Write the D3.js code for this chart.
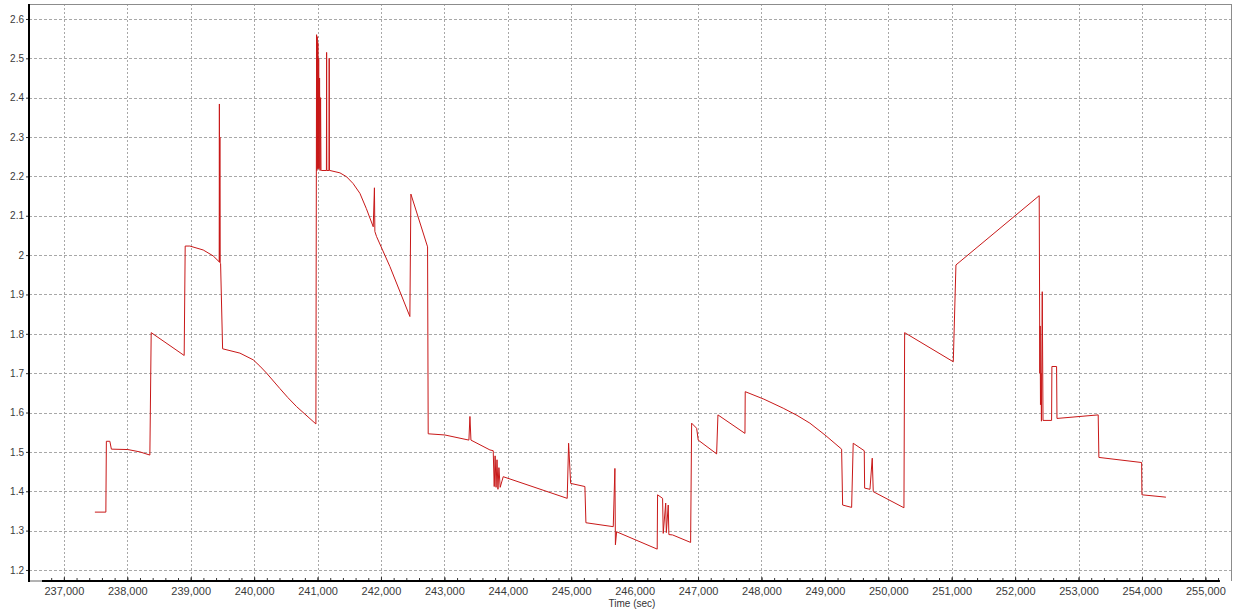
<!DOCTYPE html>
<html lang="en">
<head>
  <meta charset="UTF-8" />
  <script src="https://d3js.org/d3.v7.min.js"></script>
  <title>Time series</title>
  <style>
    body { margin: 0; background: #fff; }
    svg { display: block; font-family: "Liberation Sans", Arial, sans-serif; }
  </style>
</head>
<body>
  <div id="chart"></div>
  <script>
    // time (sec) and value
    const times = [
      237489, 237662, 237670, 237725, 237749, 238009, 238199, 238356,
      238377, 238897, 238913, 238987, 239197, 239354, 239449,
      239452, 239456, 239460, 239464, 239471, 239503,
      239776, 239985, 240091, 240197, 240406, 240532, 240670, 240974,
      240985, 240990, 240995, 241000, 241005, 241012, 241018, 241025, 241032, 241040, 241048, 241055, 241062,
      241140, 241143, 241146, 241180, 241184, 241188, 241195,
      241353, 241458, 241560, 241668, 241770, 241878, 241897, 241904, 241931, 242141, 242456,
      242472, 242735, 242745,
      243008, 243387, 243403, 243419, 243718, 243770,
      243786, 243800, 243815, 243830, 243845, 243860, 243880, 243928,
      244937, 244959, 244991, 245216, 245232, 245663, 245689, 245697, 245716,
      246356, 246362, 246441, 246451, 246490, 246500, 246530, 246540, 246599, 246883,
      246899, 246978, 247003, 247293, 247314, 247740, 247744,
      248039, 248343, 248559, 248764, 249017, 249264,
      249280, 249422, 249447, 249621, 249627, 249711, 249747, 249763, 250247,
      250258, 251025, 251067, 252380,
      252390, 252395, 252400, 252408, 252415, 252428, 252440,
      252575, 252580, 252654, 252660, 253310, 253321, 253995, 254000, 254378
    ];
    const values = [
      1.347, 1.347, 1.527, 1.527, 1.507, 1.506, 1.500, 1.492,
      1.803, 1.745, 2.023, 2.023, 2.013, 1.998, 1.983,
      2.384, 1.982, 2.300, 1.980, 1.979, 1.762,
      1.751, 1.734, 1.718, 1.700, 1.661, 1.638, 1.615, 1.571,
      2.560, 2.215, 2.555, 2.220, 2.540, 2.220, 2.500, 2.220, 2.450, 2.215, 2.400, 2.215, 2.215,
      2.215, 2.515, 2.215, 2.215, 2.500, 2.215, 2.215,
      2.209, 2.199, 2.182, 2.157, 2.118, 2.072, 2.171, 2.060, 2.047, 1.971, 1.844,
      2.155, 2.021, 1.546,
      1.543, 1.530, 1.590, 1.530, 1.505, 1.503,
      1.412, 1.490, 1.410, 1.480, 1.405, 1.460, 1.410, 1.437,
      1.382, 1.522, 1.420, 1.412, 1.320, 1.310, 1.458, 1.264, 1.297,
      1.253, 1.391, 1.382, 1.293, 1.370, 1.295, 1.365, 1.290, 1.289, 1.270,
      1.573, 1.560, 1.530, 1.495, 1.594, 1.547, 1.653,
      1.634, 1.611, 1.593, 1.573, 1.541, 1.507,
      1.365, 1.359, 1.522, 1.503, 1.408, 1.405, 1.484, 1.399, 1.358,
      1.803, 1.729, 1.975, 2.151,
      1.700, 1.820, 1.620, 1.700, 1.578, 1.907, 1.580,
      1.580, 1.717, 1.717, 1.585, 1.594, 1.486, 1.473, 1.391, 1.385
    ];
    const xTicks = d3.range(237000, 255001, 1000);
    const xMinorTicks = d3.range(236800, 255201, 200);
    const yTicks = [1.2, 1.3, 1.4, 1.5, 1.6, 1.7, 1.8, 1.9, 2, 2.1, 2.2, 2.3, 2.4, 2.5, 2.6];
    const xLabel = "Time (sec)";

    const width = 1233, height = 611;
    const plot = { left: 29, right: 1232, top: 4, bottom: 581 };

    const svg = d3.select("#chart").append("svg")
      .attr("width", width)
      .attr("height", height);

    const x = d3.scaleLinear()
      .domain([236450, 255420])
      .range([plot.left, plot.right]);

    const y = d3.scaleLinear()
      .domain([1.172, 2.638])
      .range([plot.bottom, plot.top]);

    // grid
    svg.append("g")
      .selectAll("line")
      .data(xTicks)
      .join("line")
      .attr("x1", d => Math.round(x(d)) + 0.5)
      .attr("x2", d => Math.round(x(d)) + 0.5)
      .attr("y1", plot.top)
      .attr("y2", plot.bottom)
      .attr("stroke", "#a8a8a8")
      .attr("stroke-dasharray", "2,2");

    svg.append("g")
      .selectAll("line")
      .data(yTicks)
      .join("line")
      .attr("x1", plot.left)
      .attr("x2", plot.right)
      .attr("y1", d => Math.round(y(d)) + 0.5)
      .attr("y2", d => Math.round(y(d)) + 0.5)
      .attr("stroke", "#a8a8a8")
      .attr("stroke-dasharray", "3,2");

    // frame
    svg.append("line")
      .attr("x1", plot.left).attr("x2", plot.right)
      .attr("y1", plot.top + 0.5).attr("y2", plot.top + 0.5)
      .attr("stroke", "#8c8c8c");
    svg.append("line")
      .attr("x1", plot.right - 0.5).attr("x2", plot.right - 0.5)
      .attr("y1", plot.top).attr("y2", plot.bottom)
      .attr("stroke", "#8c8c8c");
    svg.append("line")
      .attr("x1", plot.left).attr("x2", x(236655))
      .attr("y1", plot.bottom).attr("y2", plot.bottom)
      .attr("stroke", "#666");

    // data line
    const pts = times.map((t, i) => [t, values[i]]);
    svg.append("path")
      .datum(pts)
      .attr("fill", "none")
      .attr("stroke", "#c81818")
      .attr("stroke-width", 1)
      .attr("d", d3.line()
        .x(d => x(d[0]))
        .y(d => y(d[1]))
      );

    // x axis (minor ticks, major ticks with labels)
    svg.append("g")
      .attr("transform", `translate(0,${plot.bottom})`)
      .call(d3.axisBottom(x).tickValues(xMinorTicks).tickSize(-3).tickFormat(""))
      .call(g => g.select(".domain").remove())
      .selectAll("line").attr("stroke", "#333");

    const xAxis = svg.append("g")
      .attr("transform", `translate(0,${plot.bottom})`)
      .call(d3.axisBottom(x).tickValues(xTicks).tickSize(-4).tickFormat(d3.format(",")));
    xAxis.select(".domain").remove();
    xAxis.selectAll(".tick line").attr("stroke", "#333");
    xAxis.selectAll("text")
      .attr("y", 6)
      .attr("fill", "#3a3a3a")
      .attr("font-size", "11px");

    svg.append("line")
      .attr("x1", x(236655)).attr("x2", x(255230))
      .attr("y1", plot.bottom).attr("y2", plot.bottom)
      .attr("stroke", "#000")
      .attr("stroke-width", 2);

    // y axis
    const yAxis = svg.append("g")
      .attr("transform", `translate(${plot.left},0)`)
      .call(d3.axisLeft(y).tickValues(yTicks).tickSize(3).tickPadding(2).tickFormat(d => String(d)));
    yAxis.select(".domain").remove();
    yAxis.selectAll(".tick line").attr("stroke", "#333");
    yAxis.selectAll("text")
      .attr("fill", "#3a3a3a")
      .attr("font-size", "10px");

    svg.append("line")
      .attr("x1", plot.left).attr("x2", plot.left)
      .attr("y1", plot.top).attr("y2", plot.bottom + 1)
      .attr("stroke", "#000")
      .attr("stroke-width", 2);

    svg.append("text")
      .attr("x", 632)
      .attr("y", 607)
      .attr("text-anchor", "middle")
      .attr("fill", "#333")
      .attr("font-size", "10px")
      .text(xLabel);
  </script>
</body>
</html>
